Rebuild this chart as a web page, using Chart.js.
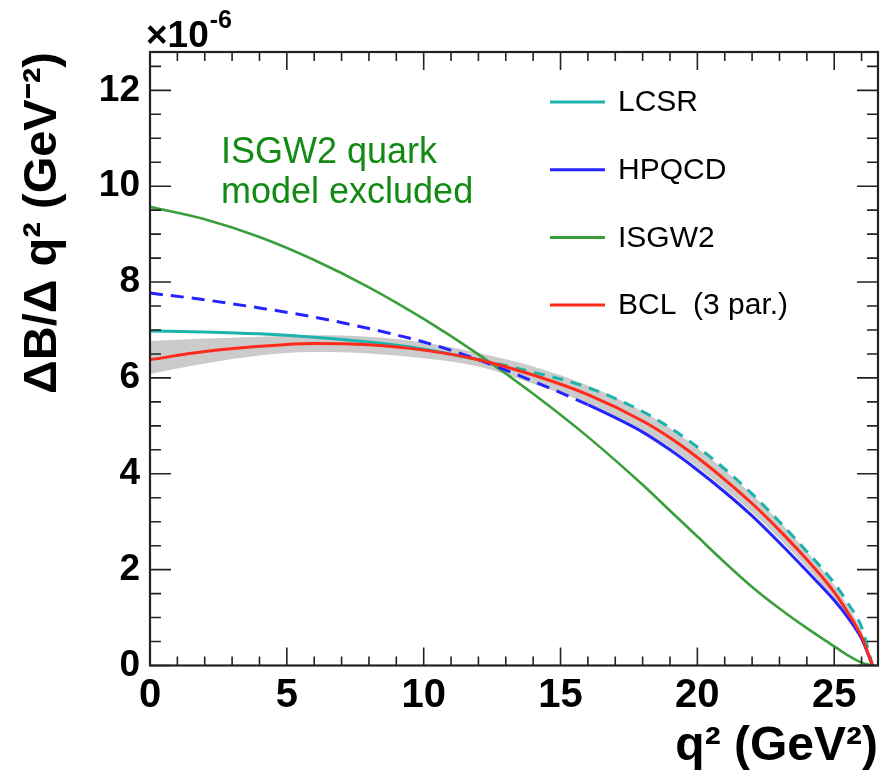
<!DOCTYPE html>
<html lang="en">
<head>
<meta charset="UTF-8">
<title>dB/dq2 form factor predictions</title>
<script src="https://cdn.jsdelivr.net/npm/chart.js@4"></script>
<style>
  body { margin: 0; background: #fff; }
  canvas { display: block; }
</style>
</head>
<body>
<canvas id="spectrum" width="891" height="776"></canvas>
<script>
// q2 grid (GeV^2) and dB/dq2 curves, in units of 1e-6 GeV^-2
const q2      = [0,    2,    4,    6,    8,    10,   12,   14,   16,   18,   19,   20,   21,   22,   23,   24,   25,   25.5, 26,   26.4];
const lcsr    = [6.98, 6.96, 6.92, 6.85, 6.75, 6.60, 6.38, 6.12, 5.80, 5.30, 4.96, 4.56, 4.10, 3.58, 3.00, 2.38, 1.72, 1.30, 0.80, 0];
const hpqcd   = [7.77, 7.63, 7.46, 7.27, 7.03, 6.75, 6.38, 5.93, 5.44, 4.87, 4.50, 4.08, 3.62, 3.12, 2.56, 1.97, 1.36, 1.00, 0.56, 0];
const isgw2   = [9.57, 9.31, 8.94, 8.46, 7.89, 7.23, 6.49, 5.67, 4.77, 3.77, 3.23, 2.69, 2.15, 1.64, 1.19, 0.78, 0.40, 0.21, 0.06, 0];
const bcl     = [6.38, 6.55, 6.66, 6.72, 6.69, 6.58, 6.38, 6.06, 5.65, 5.10, 4.75, 4.34, 3.88, 3.38, 2.82, 2.21, 1.53, 1.10, 0.60, 0];
const bclLow  = [6.08, 6.30, 6.47, 6.54, 6.51, 6.41, 6.24, 5.88, 5.46, 4.90, 4.55, 4.14, 3.68, 3.19, 2.64, 2.04, 1.38, 0.98, 0.50, 0];
const bclHigh = [6.77, 6.82, 6.86, 6.89, 6.86, 6.74, 6.52, 6.24, 5.84, 5.30, 4.95, 4.54, 4.08, 3.57, 3.00, 2.38, 1.68, 1.24, 0.72, 0.02];

const names   = ['LCSR', 'HPQCD', 'ISGW2', 'BCL  (3 par.)'];
const xMajor  = [0, 5, 10, 15, 20, 25];
const yMajor  = [0, 2, 4, 6, 8, 10, 12];

const colors = { lcsr: '#1db3ad', hpqcd: '#2424ff', isgw2: '#3a9f3a', bcl: '#ff2a1a', band: '#cbcbcb' };
const FONT = "'Liberation Sans', Arial, Helvetica, sans-serif";

const pts = arr => q2.map((x, i) => ({ x: x, y: arr[i] }));

// frame with inward ticks, legend and text labels, ROOT style
const decorations = {
  id: 'decorations',
  afterDraw(chart) {
    const { ctx, chartArea: a, scales: { x, y } } = chart;
    ctx.save();
    ctx.strokeStyle = '#222';
    ctx.lineWidth = 1.6;
    ctx.beginPath();
    x.ticks.forEach(t => {
      const px = x.getPixelForValue(t.value);
      const len = xMajor.includes(t.value) ? 18 : 9;
      ctx.moveTo(px, a.bottom); ctx.lineTo(px, a.bottom - len);
      ctx.moveTo(px, a.top); ctx.lineTo(px, a.top + len);
    });
    y.ticks.forEach(t => {
      const py = y.getPixelForValue(t.value);
      const len = yMajor.includes(t.value) ? 21 : 11;
      ctx.moveTo(a.left, py); ctx.lineTo(a.left + len, py);
      ctx.moveTo(a.right, py); ctx.lineTo(a.right - len, py);
    });
    ctx.stroke();
    ctx.lineWidth = 2.2;
    ctx.strokeRect(a.left, a.top, a.right - a.left, a.bottom - a.top);

    // exponent label
    ctx.fillStyle = '#000';
    ctx.textBaseline = 'alphabetic';
    ctx.textAlign = 'left';
    ctx.font = 'bold 37px ' + FONT;
    ctx.fillText('\u00d710', 146, 47);
    const w = ctx.measureText('\u00d710').width;
    ctx.font = 'bold 25px ' + FONT;
    ctx.fillText('-6', 146 + w + 1, 28);

    // legend
    const legendColors = [colors.lcsr, colors.hpqcd, colors.isgw2, colors.bcl];
    ctx.font = '30px ' + FONT;
    ctx.textBaseline = 'middle';
    ctx.lineWidth = 3;
    names.forEach((n, i) => {
      const ly = 102 + i * 67.7;
      ctx.strokeStyle = legendColors[i];
      ctx.beginPath();
      ctx.moveTo(550, ly); ctx.lineTo(605, ly);
      ctx.stroke();
      ctx.fillStyle = '#000';
      ctx.fillText(n, 618, ly + 1);
    });

    // annotation
    ctx.fillStyle = '#138a13';
    ctx.font = '36px ' + FONT;
    ctx.textBaseline = 'alphabetic';
    ctx.fillText('ISGW2 quark', 221, 163);
    ctx.fillText('model excluded', 221, 203);
    ctx.restore();
  }
};

const line = (data, color, extra) => Object.assign({
  data: pts(data),
  borderColor: color,
  borderWidth: 3,
  pointRadius: 0,
  fill: false,
  cubicInterpolationMode: 'monotone'
}, extra || {});

new Chart(document.getElementById('spectrum'), {
  type: 'line',
  data: {
    datasets: [
      line(bcl, colors.bcl),
      line(hpqcd, colors.hpqcd, {
        segment: { borderDash: c => c.p1.parsed.x <= 16 ? [13, 8] : undefined }
      }),
      line(lcsr, colors.lcsr, {
        segment: { borderDash: c => c.p0.parsed.x >= 12 ? [11, 8] : undefined }
      }),
      line(isgw2, colors.isgw2, { borderWidth: 2.6 }),
      line(bclLow, 'rgba(0,0,0,0)', { borderWidth: 0 }),
      line(bclHigh, 'rgba(0,0,0,0)', { borderWidth: 0, fill: '-1', backgroundColor: colors.band })
    ]
  },
  options: {
    responsive: false,
    animation: false,
    layout: { padding: { top: 52, right: 13, left: 0, bottom: 0 } },
    plugins: { legend: { display: false }, tooltip: { enabled: false } },
    scales: {
      x: {
        type: 'linear',
        min: 0,
        max: 26.6,
        grid: { display: false, drawTicks: false },
        border: { display: false },
        ticks: {
          stepSize: 1,
          includeBounds: false,
          autoSkip: false,
          maxRotation: 0,
          padding: 6,
          color: '#000',
          font: { family: FONT, size: 40, weight: 'bold' },
          callback: v => xMajor.includes(v) ? String(v) : ''
        },
        title: {
          display: true,
          text: 'q\u00b2 (GeV\u00b2)',
          align: 'end',
          color: '#000',
          padding: { top: 0, bottom: 0 },
          font: { family: FONT, size: 48, weight: 'bold' }
        },
        afterFit: s => { s.height = 110.5; }
      },
      y: {
        min: 0,
        max: 12.8,
        grid: { display: false, drawTicks: false },
        border: { display: false },
        ticks: {
          stepSize: 0.5,
          includeBounds: false,
          autoSkip: false,
          padding: 10,
          color: '#000',
          font: { family: FONT, size: 37, weight: 'bold' },
          callback: v => yMajor.includes(v) ? String(v) : ''
        },
        title: {
          display: true,
          text: '\u0394B/\u0394 q\u00b2 (GeV\u207b\u00b2)',
          align: 'end',
          color: '#000',
          padding: { top: 15, bottom: 0 },
          font: { family: FONT, size: 47, weight: 'bold' }
        },
        afterFit: s => { s.width = 150; }
      }
    }
  },
  plugins: [decorations]
});
</script>
</body>
</html>
